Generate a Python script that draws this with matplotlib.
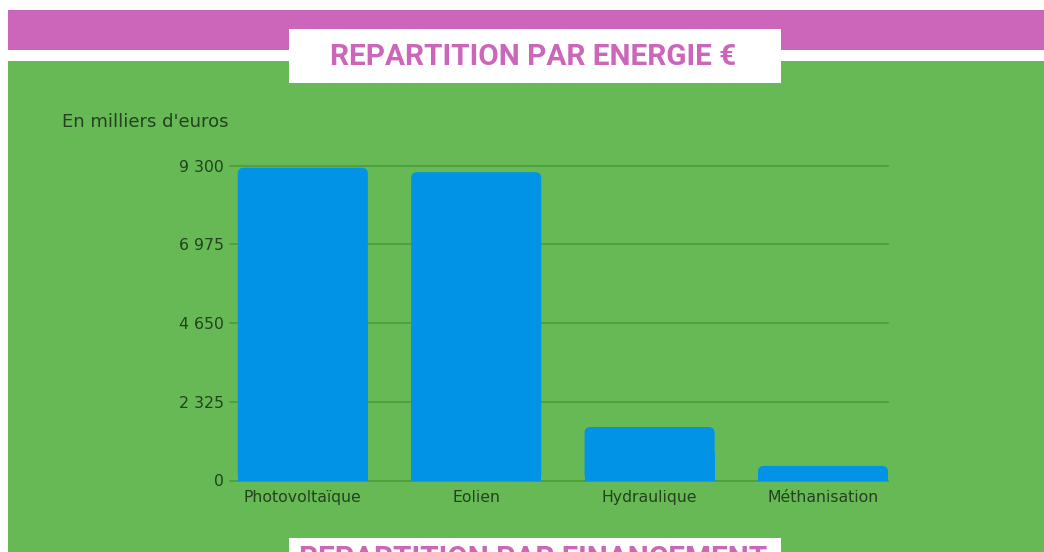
import matplotlib
matplotlib.use("Agg")
import matplotlib.pyplot as plt
from matplotlib.patches import Rectangle, FancyBboxPatch

# Data (en milliers d'euros)
categories = ["Photovoltaïque", "Eolien", "Hydraulique", "Méthanisation"]
values = [9240, 9110, 1580, 430]
yticks = [0, 2325, 4650, 6975, 9300]
ytick_labels = ["0", "2 325", "4 650", "6 975", "9 300"]

W, H = 1044, 552
green = "#66b955"
pink = "#cc66bb"
blue = "#0093e6"
grid_col = "#4c9a3e"
text_col = "#23421f"

fig = plt.figure(figsize=(W / 100, H / 100), dpi=100)
fig.patch.set_facecolor("white")


def box(x0, y0, x1, y1, color):
    # rectangle given in pixels from the top-left corner
    fig.add_artist(Rectangle((x0 / W, 1 - y1 / H), (x1 - x0) / W, (y1 - y0) / H,
                             transform=fig.transFigure, facecolor=color,
                             edgecolor="none", zorder=0))


box(8, 61, W, H, green)
box(8, 10, W, 50, pink)
box(289, 29, 781, 83, "white")
box(289, 538, 781, H, "white")

title_font = ["Roboto", "DejaVu Sans"]
t1 = fig.text(533 / W, 1 - 57 / H, "REPARTITION PAR ENERGIE €", ha="center", va="center",
              color=pink, fontsize=23, fontweight="semibold", family=title_font)
t2 = fig.text(533 / W, 1 - 559 / H, "REPARTITION PAR FINANCEMENT", ha="center", va="center",
              color=pink, fontsize=23, fontweight="semibold", family=title_font)
# fit title width to ~408 px
r = fig.canvas.get_renderer()
w = t1.get_window_extent(r).width
t1.set_fontsize(23 * 408 / w)
t2.set_fontsize(23 * 408 / w)

fig.text(62 / W, 1 - 122 / H, "En milliers d'euros", ha="left", va="center",
         color=text_col, fontsize=13, family="DejaVu Sans")

# chart area
ax_l, ax_r, ax_t, ax_b = 230, 888, 165.7, 480.5
ax = fig.add_axes([ax_l / W, 1 - ax_b / H, (ax_r - ax_l) / W, (ax_b - ax_t) / H])
ax.set_facecolor("none")
ax.set_xlim(-0.42, 3.375)
ax.set_ylim(0, 9300)

x = range(len(categories))
bars = ax.bar(x, values, width=0.75, color=blue, zorder=2)
# rounded top corners (about 6 px)
rad = 6 / 174
ra = (9300 / 314.8) * 174
for b in bars:
    b.set_visible(False)
    bx, by, bw, bh = b.get_x(), b.get_y(), b.get_width(), b.get_height()
    ax.add_patch(FancyBboxPatch((bx + rad, by + rad * ra), bw - 2 * rad, bh - 2 * rad * ra,
                                boxstyle=f"round,pad={rad}", mutation_aspect=ra,
                                facecolor=blue, edgecolor="none", zorder=2,
                                clip_on=False))
    ax.add_patch(Rectangle((bx, by), bw, bh / 2, facecolor=blue,
                           edgecolor="none", zorder=2))

ax.set_yticks(yticks)
ax.set_yticklabels(ytick_labels)
ax.set_xticks(list(x))
ax.set_xticklabels(categories)
ax.tick_params(length=0, labelcolor=text_col, labelsize=11.3)
ax.tick_params(axis="y", pad=4.5)
ax.tick_params(axis="x", pad=7)
for lab in ax.get_xticklabels() + ax.get_yticklabels():
    lab.set_family("DejaVu Sans")
for s in ax.spines.values():
    s.set_visible(False)
for t in yticks:
    ax.axhline(t, color=grid_col, lw=1.2, zorder=1, clip_on=False)

fig.savefig("out.png", dpi=100, facecolor=fig.get_facecolor())
